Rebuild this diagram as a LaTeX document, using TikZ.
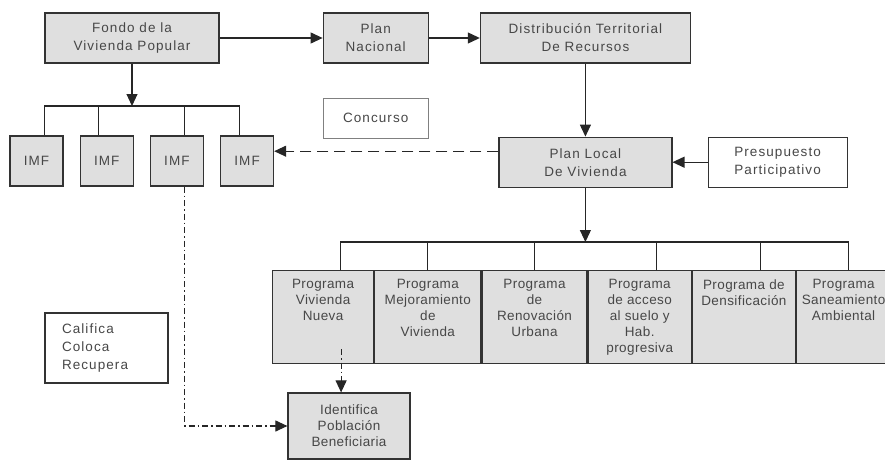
\documentclass[tikz,border=0pt]{standalone}
\usepackage{fontspec}
\setmainfont[LetterSpace=8]{Liberation Sans}
\newfontfamily\progfont[LetterSpace=3]{Liberation Sans}
\usetikzlibrary{
	positioning,
	arrows.meta
}
\colorlet{boxgray}{gray!25}
\colorlet{txtgray}{black!72}
\newcommand{\progtext}[2]{\parbox[c][93pt][t]{#1}{\centering\vspace*{9pt}#2}}

\begin{document}
\begin{tikzpicture}[
		x=1pt, y=-1pt,
		every node/.style={font=\fontsize{13.5}{18}\selectfont, text=txtgray},
		box/.style={draw=black!80, line width=1.2pt, fill=boxgray, inner sep=0pt, align=center},
		note/.style={box, fill=white},
		prog/.style={box, anchor=north west, font=\progfont\fontsize{13.5}{16}\selectfont},
		wire/.style={line width=1.1pt, draw=black!85},
		link/.style={wire, -{Triangle[length=12pt,width=11pt]}},
		gap line/.style={dash pattern=on 11pt off 6pt},
		chain line/.style={dash pattern=on 6pt off 3pt on 1.5pt off 3pt}
	]
		\useasboundingbox (0,0) rectangle (885,460);

		\node[box, minimum width=174pt, minimum height=50pt] (fondo) at (132,38) {Fondo de la\\Vivienda Popular};
		\node[box, minimum width=105pt, minimum height=50pt, right=103pt of fondo] (nacional) {Plan\\Nacional};
		\node[box, minimum width=210pt, minimum height=50pt, right=51pt of nacional] (distrib) {Distribución Territorial\\De Recursos};
		\node[note, draw=gray, minimum width=105pt, minimum height=40pt, below=34pt of nacional] (concurso) {Concurso};

		\node[box, minimum width=53pt, minimum height=50pt] (imf1) at (36.5,161) {IMF};
		\node[box, minimum width=53pt, minimum height=50pt, right=16pt of imf1] (imf2) {IMF};
		\node[box, minimum width=53pt, minimum height=50pt, right=16pt of imf2] (imf3) {IMF};
		\node[box, minimum width=53pt, minimum height=50pt, right=16pt of imf3] (imf4) {IMF};

		\node[box, minimum width=173pt, minimum height=50pt, below=73pt of distrib] (planlocal) {Plan Local\\De Vivienda};
		\node[note, minimum width=139pt, minimum height=50pt, right=35pt of planlocal] (presup) {Presupuesto\\Participativo};

		\node[prog] (p1) at (272,270) {\progtext{101pt}{Programa\\Vivienda\\Nueva}};
		\node[prog, right=0pt of p1] (p2) {\progtext{106pt}{Programa\\Mejoramiento\\de\\Vivienda}};
		\node[prog, right=0pt of p2] (p3) {\progtext{105pt}{Programa\\de\\Renovación\\Urbana}};
		\node[prog, right=0pt of p3] (p4) {\progtext{103pt}{Programa\\de acceso\\al suelo y\\Hab.\\progresiva}};
		\node[prog, right=0pt of p4] (p5) {\progtext{103pt}{Programa de\\Densificación}};
		\node[prog, right=0pt of p5] (p6) {\progtext{94pt}{Programa\\Saneamiento\\Ambiental}};

		\node[box, font=\progfont\fontsize{13.5}{16}\selectfont, minimum width=122pt, minimum height=66pt] (identifica) at (349,426) {Identifica\\Población\\Beneficiaria};
		\node[note, align=left, text width=89pt, inner xsep=17pt, minimum height=70pt] (califica) at (106.5,348) {Califica\\Coloca\\Recupera};

		\coordinate (imfbus) at (fondo.south |- 0,106);
		\coordinate (progbus) at (planlocal.south |- 0,242);

		% top row
		\draw[link] (fondo.east) -- (nacional.west);
		\draw[link] (nacional.east) -- (distrib.west);
		\draw[link] (distrib.south) -- (distrib.south |- planlocal.north);
		\draw[link] (presup.west) -- (presup.west -| planlocal.east);
		\draw[link, gap line] ([yshift=11pt]planlocal.west) -- ([yshift=11pt]planlocal.west -| imf4.east);

		% IMF bus
		\draw[link] (fondo.south) -- (imfbus);
		\draw[wire] ([xshift=8pt]imf1.north) |- (imfbus) -| ([xshift=-8pt]imf4.north);
		\draw[wire] ([xshift=-8pt]imf2.north) -- ([xshift=-8pt]imf2.north |- imfbus);
		\draw[wire] ([xshift=8pt]imf3.north) -- ([xshift=8pt]imf3.north |- imfbus);

		% program bus
		\draw[link] (planlocal.south) -- (progbus);
		\draw[wire] ([xshift=17pt]p1.north) |- (progbus) -| ([xshift=5pt]p6.north);
		\foreach \p/\s in {p2/0pt, p3/0pt, p4/17pt, p5/17pt}
			\draw[wire] ([xshift=\s]\p.north) -- ([xshift=\s]\p.north |- progbus);

		% beneficiaries
		\draw[link, chain line] ([xshift=8pt]imf3.south) |- (identifica.west);
		\draw[link, chain line] ([xshift=18pt,yshift=15pt]p1.south) -- ([xshift=18pt]p1.south |- identifica.north);
	\end{tikzpicture}
\end{document}
